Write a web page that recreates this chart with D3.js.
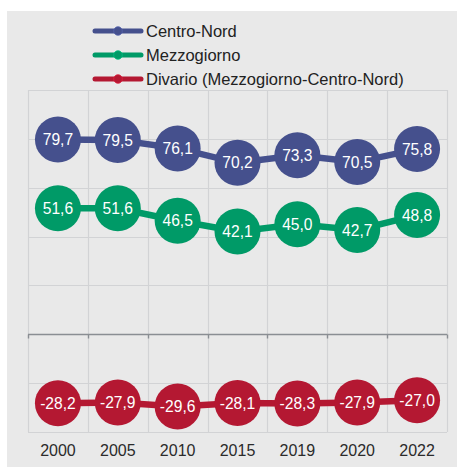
<!DOCTYPE html>
<html>
<head>
<meta charset="utf-8">
<script src="https://cdn.jsdelivr.net/npm/d3@7/dist/d3.min.js"></script>
<style>
  html, body { margin: 0; padding: 0; background: #ffffff; }
  svg { display: block; }
  text { font-family: "Liberation Sans", Arial, sans-serif; }
</style>
</head>
<body>
<svg id="chart" width="457" height="467"></svg>
<script>
// Years on the horizontal axis
const years = ["2000", "2005", "2010", "2015", "2019", "2020", "2022"];

// Series values (per cent)
const centroNord  = [79.7, 79.5, 76.1, 70.2, 73.3, 70.5, 75.8];
const mezzogiorno = [51.6, 51.6, 46.5, 42.1, 45.0, 42.7, 48.8];
const divario     = [-28.2, -27.9, -29.6, -28.1, -28.3, -27.9, -27.0];

const seriesNames  = ["Centro-Nord", "Mezzogiorno", "Divario (Mezzogiorno-Centro-Nord)"];
const seriesValues = [centroNord, mezzogiorno, divario];
const seriesColors = ["#45508d", "#009a67", "#b41832"];

// Value-axis gridline positions
const yTicks = [-40, -20, 0, 20, 40, 60, 80, 100];

const svg = d3.select("#chart");
const W = 457, H = 467;

// Panel background
svg.append("rect")
  .attr("x", 7).attr("y", 11)
  .attr("width", W - 7).attr("height", H - 11)
  .attr("fill", "#e9e9e9");

const plot = { left: 28, right: 447, top: 90, bottom: 432 };

const x = d3.scaleBand()
  .domain(years)
  .range([plot.left, plot.right])
  .padding(0);

const y = d3.scaleLinear()
  .domain([-40, 100])
  .range([plot.bottom, plot.top]);

const g = svg.append("g");

// Horizontal gridlines
g.selectAll(".hgrid")
  .data(yTicks)
  .join("line")
  .attr("x1", plot.left).attr("x2", plot.right)
  .attr("y1", d => Math.round(y(d)) + 0.5)
  .attr("y2", d => Math.round(y(d)) + 0.5)
  .attr("stroke", "#d2d3d5")
  .attr("stroke-width", 1.2);

// Vertical gridlines at category boundaries
const bounds = years.map(d => x(d)).concat([x(years[years.length - 1]) + x.bandwidth()]);
g.selectAll(".vgrid")
  .data(bounds)
  .join("line")
  .attr("x1", d => Math.round(d) + 0.5)
  .attr("x2", d => Math.round(d) + 0.5)
  .attr("y1", plot.top).attr("y2", plot.bottom)
  .attr("stroke", "#d2d3d5")
  .attr("stroke-width", 1.2);

// Category axis along the zero line
const zeroY = Math.round(y(0)) + 0.5;
g.append("line")
  .attr("x1", plot.left).attr("x2", plot.right)
  .attr("y1", zeroY).attr("y2", zeroY)
  .attr("stroke", "#8a8e93")
  .attr("stroke-width", 1.4);
g.selectAll(".tick0")
  .data(bounds)
  .join("line")
  .attr("x1", d => Math.round(d) + 0.5)
  .attr("x2", d => Math.round(d) + 0.5)
  .attr("y1", zeroY).attr("y2", zeroY + 4)
  .attr("stroke", "#8a8e93")
  .attr("stroke-width", 1.4);

// Year labels below the plot
const xAxis = d3.axisBottom(x).tickSize(0).tickPadding(0);
const xa = svg.append("g")
  .attr("transform", `translate(0, ${plot.bottom + 12})`)
  .call(xAxis);
xa.select(".domain").remove();
xa.selectAll("text")
  .attr("font-size", 16)
  .attr("font-family", "Liberation Sans, Arial, sans-serif")
  .attr("fill", "#2b2b2b")
  .attr("dy", "0.75em");

const cx = d => x(d) + x.bandwidth() / 2;
const fmt = v => d3.format(".1f")(v).replace(".", ",").replace("\u2212", "-");

// Series: connecting line, circles, value labels
seriesValues.forEach((vals, i) => {
  const color = seriesColors[i];
  const pts = years.map((yr, j) => ({ yr, v: vals[j] }));
  const line = d3.line().x(d => cx(d.yr)).y(d => y(d.v));

  svg.append("path")
    .datum(pts)
    .attr("d", line)
    .attr("fill", "none")
    .attr("stroke", color)
    .attr("stroke-width", 6.5);

  const grp = svg.append("g");
  grp.selectAll("circle")
    .data(pts)
    .join("circle")
    .attr("cx", d => cx(d.yr))
    .attr("cy", d => y(d.v))
    .attr("r", 23)
    .attr("fill", color);

  grp.selectAll("text")
    .data(pts)
    .join("text")
    .attr("x", d => cx(d.yr))
    .attr("y", d => y(d.v))
    .attr("dy", "0.36em")
    .attr("text-anchor", "middle")
    .attr("font-size", 15.6)
    .attr("fill", "#ffffff")
    .text(d => fmt(d.v));
});

// Legend
const legend = svg.append("g");
seriesNames.forEach((name, i) => {
  const ly = 31 + i * 24;
  const color = seriesColors[i];
  legend.append("line")
    .attr("x1", 95).attr("x2", 141)
    .attr("y1", ly).attr("y2", ly)
    .attr("stroke", color)
    .attr("stroke-width", 5)
    .attr("stroke-linecap", "round");
  legend.append("circle")
    .attr("cx", 118).attr("cy", ly)
    .attr("r", 4.3)
    .attr("fill", color)
    .attr("stroke", d3.color(color).brighter(0.6))
    .attr("stroke-width", 0.8);
  legend.append("text")
    .attr("x", 146).attr("y", ly)
    .attr("dy", "0.36em")
    .attr("font-size", 16.5)
    .attr("fill", "#222222")
    .text(name);
});
</script>
</body>
</html>
